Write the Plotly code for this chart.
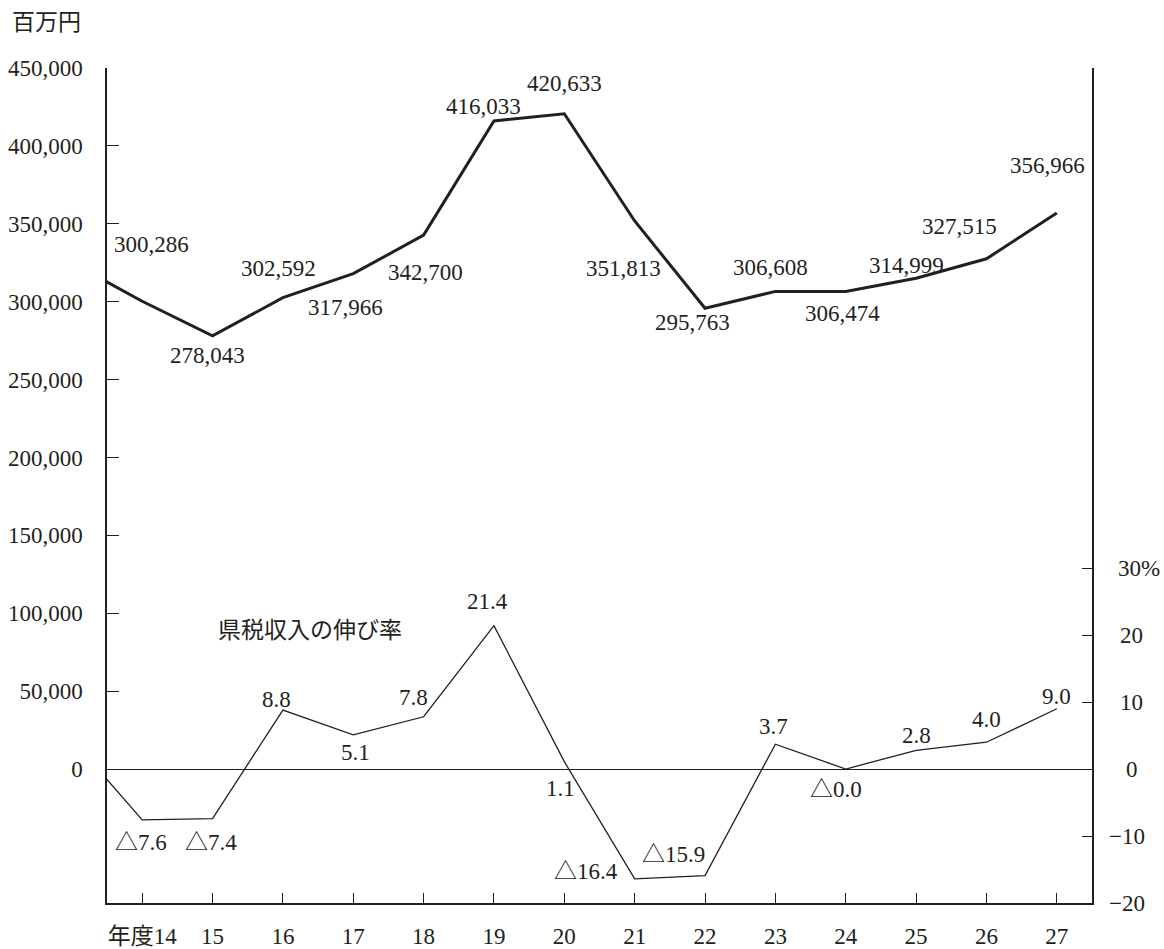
import plotly.graph_objects as go

# 年度 (fiscal years); year 13 only feeds the segment entering from the left edge
years = [13, 14, 15, 16, 17, 18, 19, 20, 21, 22, 23, 24, 25, 26, 27]
year_ticks = [14, 15, 16, 17, 18, 19, 20, 21, 22, 23, 24, 25, 26, 27]
year_tick_text = ["年度14", "15", "16", "17", "18", "19", "20",
                  "21", "22", "23", "24", "25", "26", "27"]

# 県税収入 (百万円)
tax_revenue = [325000, 300286, 278043, 302592, 317966, 342700, 416033,
               420633, 351813, 295763, 306608, 306474, 314999, 327515, 356966]

# 県税収入の伸び率 (%)
growth_rate = [4.5, -7.6, -7.4, 8.8, 5.1, 7.8, 21.4,
               1.1, -16.4, -15.9, 3.7, -0.0, 2.8, 4.0, 9.0]

left_ticks = [0, 50000, 100000, 150000, 200000, 250000, 300000, 350000, 400000, 450000]
right_ticks = [-20, -10, 0, 10, 20, 30]
right_tick_text = ["−20", "−10", "0", "10", "20", "30%"]

# horizontal centre (px) of each right-hand scale label
right_label_px = [1127, 1127, 1132, 1131, 1131, 1139]

# label placement in pixels relative to each point (dx right, dy down)
revenue_label_offsets = [(9, -57), (-5, 20), (-4, -29), (-8, 34), (2, 37), (-10, -14),
                         (0, -30), (-11, 48), (-13, 14), (-5, -24), (-3, 22), (-10, -13),
                         (-27, -32), (-9, -47)]
growth_label_offsets = [(-1, 23), (-2, 24), (-6, -11), (2, 18), (-10, -19), (-6, -24),
                        (-4, 27), (-49, -7), (-32, -21), (-2, -18), (-10, 20), (0, -15),
                        (0, -23), (0, -12)]

INK = "#231f20"
FONT = '"Liberation Serif", "Noto Sans CJK JP", serif'
FS = 23
W, H = 1164, 949
M = dict(l=107, r=72, t=68, b=46)
PLOT_W = W - M["l"] - M["r"]


def fmt_rate(v):
    s = f"{v:.1f}"
    return "△" + s[1:] if s.startswith("-") else s


fig = go.Figure()
fig.add_trace(go.Scatter(x=years, y=tax_revenue, mode="lines",
                         line=dict(color=INK, width=3), yaxis="y",
                         hoverinfo="skip", showlegend=False))
fig.add_trace(go.Scatter(x=years, y=growth_rate, mode="lines",
                         line=dict(color=INK, width=1.3), yaxis="y2",
                         hoverinfo="skip", showlegend=False))

annotations = []
for yr, v, (dx, dy) in zip(years[1:], tax_revenue[1:], revenue_label_offsets):
    annotations.append(dict(x=yr, y=v, xref="x", yref="y", text=f"{v:,}",
                            showarrow=False, xanchor="center", yanchor="middle",
                            xshift=dx, yshift=-dy))
for yr, v, (dx, dy) in zip(years[1:], growth_rate[1:], growth_label_offsets):
    annotations.append(dict(x=yr, y=v, xref="x", yref="y2", text=fmt_rate(v),
                            showarrow=False, xanchor="center", yanchor="middle",
                            xshift=dx, yshift=-dy))
# right-hand % scale labels, centred in the right margin
for tv, tt, px in zip(right_ticks, right_tick_text, right_label_px):
    annotations.append(dict(x=(px - M["l"]) / PLOT_W, y=tv, xref="paper", yref="y2",
                            text=tt, showarrow=False, xanchor="center",
                            yanchor="middle"))
annotations.append(dict(x=-0.0612, y=1.054, xref="paper", yref="paper", text="百万円",
                        showarrow=False, xanchor="center", yanchor="middle"))
annotations.append(dict(x=0.2061, y=0.326, xref="paper", yref="paper",
                        text="県税収入の伸び率", showarrow=False,
                        xanchor="center", yanchor="middle"))

fig.update_layout(
    width=W, height=H,
    margin=M,
    paper_bgcolor="white", plot_bgcolor="white",
    font=dict(family=FONT, size=FS, color=INK),
    annotations=annotations,
    xaxis=dict(range=[13.5, 27.5], tickvals=year_ticks, ticktext=year_tick_text,
               ticks="inside", ticklen=10, tickwidth=1.3, tickcolor=INK,
               showline=True, linecolor=INK, linewidth=1.5, showgrid=False,
               zeroline=False, ticklabelstandoff=12, automargin=False),
    yaxis=dict(range=[-86000, 450000], tickvals=left_ticks, tickformat=",",
               ticks="inside", ticklen=12, tickwidth=1.3, tickcolor=INK,
               showline=True, linecolor=INK, linewidth=1.5, showgrid=False,
               zeroline=True, zerolinecolor=INK, zerolinewidth=1.3,
               ticklabelstandoff=18, automargin=False),
    yaxis2=dict(range=[-20, 104.65], overlaying="y", side="right",
                tickvals=right_ticks, showticklabels=False,
                ticks="inside", ticklen=10, tickwidth=1.3, tickcolor=INK,
                showline=True, linecolor=INK, linewidth=1.5, showgrid=False,
                zeroline=False, automargin=False),
)

fig.write_html("out.html")
